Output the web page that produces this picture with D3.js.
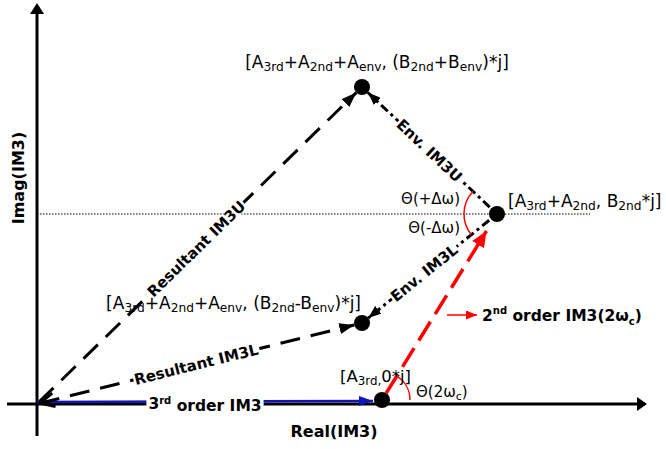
<!DOCTYPE html>
<html lang="en">
<head>
<meta charset="utf-8">
<script src="https://cdn.jsdelivr.net/npm/d3@7/dist/d3.min.js"></script>
<style type="text/css">
body { margin: 0; background: #fff; }
text { font-family: "DejaVu Sans", Verdana, sans-serif; fill: #000; }
.bold { font-weight: bold; }
</style>
</head>
<body>
<script type="text/javascript">

var width = 666;
var height = 449;

// phasor end points, (real, imag) in drawing units
var pointNames = ["O", "A3", "P2", "PU", "PL"];
var pointRe    = [0, 345, 460, 325, 325];
var pointIm    = [0, 4, 190, 317, 81];

// vectors between points
var vecFrom  = ["O",  "A3",     "P2",  "P2",  "O",   "O"];
var vecTo    = ["A3", "P2",     "PU",  "PL",  "PU",  "PL"];
var vecKind  = ["third", "second", "env", "env", "res", "res"];
var vecLabel = [null, null, "Env. IM3U", "Env. IM3L", "Resultant IM3U", "Resultant IM3L"];

// coordinate labels: segments of [text, "sub" | null]
var coordLabels = [
  [["[A"], ["3rd", "sub"], ["+A"], ["2nd", "sub"], ["+A"], ["env", "sub"], [", (B"], ["2nd", "sub"], ["+B"], ["env", "sub"], [")*j]"]],
  [["[A"], ["3rd", "sub"], ["+A"], ["2nd", "sub"], [", B"], ["2nd", "sub"], ["*j]"]],
  [["[A"], ["3rd", "sub"], ["+A"], ["2nd", "sub"], ["+A"], ["env", "sub"], [", (B"], ["2nd", "sub"], ["-B"], ["env", "sub"], [")*j]"]],
  [["[A"], ["3rd,", "sub"], ["0*j]"]]
];
var coordAt = ["PU", "P2", "PL", "A3"];

var angleLabels = ["Θ(+Δω)", "Θ(-Δω)"];
var xTitle = "Real(IM3)";
var yTitle = "Imag(IM3)";

var x = d3.scaleLinear().domain([0, 600]).range([37, 637]);
var y = d3.scaleLinear().domain([0, 400]).range([404, 4]);

var pts = {};
pointNames.forEach(function(n, i) { pts[n] = [x(pointRe[i]), y(pointIm[i])]; });

var svg = d3.select("body").append("svg")
  .attr("width", width)
  .attr("height", height);

var defs = svg.append("defs");
function marker(id, color, w, h) {
  defs.append("marker")
    .attr("id", id)
    .attr("markerUnits", "userSpaceOnUse")
    .attr("viewBox", "0 0 " + w + " " + h)
    .attr("markerWidth", w).attr("markerHeight", h)
    .attr("refX", w).attr("refY", h / 2)
    .attr("orient", "auto")
    .append("path")
    .attr("d", "M0,0L" + w + "," + (h / 2) + "L0," + h + "Z")
    .attr("fill", color);
}
marker("ah-black", "#000", 15, 11);
marker("ah-env", "#000", 13, 10);
marker("ah-red", "#f00", 16, 14);
marker("ah-blue", "#1414b4", 14, 10);
marker("ah-small-red", "#f00", 11, 9);

// axes
var axisG = svg.append("g");
axisG.append("line")
  .attr("x1", x(-30)).attr("y1", y(0)).attr("x2", x(608)).attr("y2", y(0))
  .attr("stroke", "#000").attr("stroke-width", 3);
axisG.append("path")
  .attr("d", "M" + x(600) + "," + (y(0) - 7) + "L" + x(610) + "," + y(0) + "L" + x(600) + "," + (y(0) + 7) + "Z");
axisG.append("line")
  .attr("x1", x(0)).attr("y1", y(-32)).attr("x2", x(0)).attr("y2", y(392))
  .attr("stroke", "#000").attr("stroke-width", 3);
axisG.append("path")
  .attr("d", "M" + (x(0) - 7) + "," + y(390) + "L" + x(0) + "," + y(401) + "L" + (x(0) + 7) + "," + y(390) + "Z");

// dotted reference line at the 2nd order tip
svg.append("line")
  .attr("x1", x(0)).attr("y1", pts.P2[1]).attr("x2", x(553)).attr("y2", pts.P2[1])
  .attr("stroke", "#000").attr("stroke-width", 1).attr("stroke-dasharray", "1.5,1.5");

var dotR = 8;
function shorten(a, b, da, db) {
  var dx = b[0] - a[0], dy = b[1] - a[1], L = Math.sqrt(dx * dx + dy * dy);
  return [[a[0] + dx * da / L, a[1] + dy * da / L], [b[0] - dx * db / L, b[1] - dy * db / L]];
}

var vecG = svg.append("g");
vecFrom.forEach(function(f, i) {
  var k = vecKind[i];
  var a = pts[f], b = pts[vecTo[i]];
  if (k === "third") {
    var s = shorten([a[0], a[1] - 2], [b[0], b[1] + 1], 0, dotR + 1);
    vecG.append("line")
      .attr("x1", s[0][0]).attr("y1", s[0][1]).attr("x2", s[1][0]).attr("y2", s[1][1])
      .attr("stroke", "#1414b4").attr("stroke-width", 2.5)
      .attr("marker-end", "url(#ah-blue)");
  } else if (k === "second") {
    var s2 = shorten(a, b, dotR, 20);
    vecG.append("line")
      .attr("x1", s2[0][0]).attr("y1", s2[0][1]).attr("x2", s2[1][0]).attr("y2", s2[1][1])
      .attr("stroke", "#f00").attr("stroke-width", 3.5)
      .attr("stroke-dasharray", "22,9")
      .attr("marker-end", "url(#ah-red)");
  } else if (k === "env") {
    var s3 = shorten(a, b, dotR + 2, dotR);
    vecG.append("line")
      .attr("x1", s3[0][0]).attr("y1", s3[0][1]).attr("x2", s3[1][0]).attr("y2", s3[1][1])
      .attr("stroke", "#000").attr("stroke-width", 3)
      .attr("stroke-dasharray", "9,4,3,4")
      .attr("marker-end", "url(#ah-env)");
  } else {
    var s4 = shorten(a, b, 3, dotR);
    vecG.append("line")
      .attr("x1", s4[0][0]).attr("y1", s4[0][1]).attr("x2", s4[1][0]).attr("y2", s4[1][1])
      .attr("stroke", "#000").attr("stroke-width", 3)
      .attr("stroke-dasharray", "20,11")
      .attr("marker-end", "url(#ah-black)");
  }
});

// open chevron at the origin end of Resultant IM3L
(function() {
  var a = pts.O, b = pts.PL;
  var ang = Math.atan2(b[1] - a[1], b[0] - a[0]);
  var tip = [a[0] + 3 * Math.cos(ang), a[1] + 3 * Math.sin(ang)];
  var L = 16, spread = 0.45;
  var p1 = [tip[0] + L * Math.cos(ang + spread), tip[1] + L * Math.sin(ang + spread)];
  var p2 = [tip[0] + L * Math.cos(ang - spread), tip[1] + L * Math.sin(ang - spread)];
  vecG.append("path")
    .attr("d", "M" + p1 + "L" + tip + "L" + p2)
    .attr("fill", "none").attr("stroke", "#000").attr("stroke-width", 3);
})();

// angle arcs
var arcG = svg.append("g").attr("fill", "none").attr("stroke", "#f00").attr("stroke-width", 1.5);
function dirAngle(a, b) { return Math.atan2(b[0] - a[0], -(b[1] - a[1])); }
var arc1 = d3.arc().innerRadius(28).outerRadius(28)
  .startAngle(dirAngle(pts.A3, pts.P2)).endAngle(Math.PI / 2);
arcG.append("path").attr("transform", "translate(" + pts.A3 + ")").attr("d", arc1());
var arc2 = d3.arc().innerRadius(33).outerRadius(33)
  .startAngle(dirAngle(pts.P2, pts.PL)).endAngle(dirAngle(pts.P2, pts.PU));
arcG.append("path").attr("transform", "translate(" + pts.P2 + ")").attr("d", arc2());

// vector labels along the lines, with white backing
vecLabel.forEach(function(lbl, i) {
  if (!lbl) return;
  var a = pts[vecFrom[i]], b = pts[vecTo[i]];
  var ang = Math.atan2(b[1] - a[1], b[0] - a[0]) * 180 / Math.PI;
  if (ang > 90 || ang < -90) ang += 180;
  var t = vecKind[i] === "env" ? (vecTo[i] === "PU" ? 0.5 : 0.54) : 0.49;
  var c = [a[0] + (b[0] - a[0]) * t, a[1] + (b[1] - a[1]) * t];
  var g = svg.append("g").attr("transform", "translate(" + c + ") rotate(" + ang + ")");
  var bg = g.append("rect").attr("fill", "#fff");
  var tx = g.append("text").attr("class", "bold")
    .attr("text-anchor", "middle").attr("dy", "0.36em")
    .style("font-size", "15px").text(lbl);
  var bb = tx.node().getBBox();
  bg.attr("x", bb.x - 1).attr("y", bb.y + 3).attr("width", bb.width + 2).attr("height", bb.height - 6);
});

// 3rd order label sitting on the real axis
(function() {
  var g = svg.append("g").attr("transform", "translate(" + x(168) + "," + (y(0) - 1) + ")");
  var bg = g.append("rect").attr("fill", "#fff");
  var tx = g.append("text").attr("class", "bold").attr("text-anchor", "middle")
    .attr("dy", "0.36em").style("font-size", "15.5px");
  tx.append("tspan").text("3");
  tx.append("tspan").attr("dy", "-0.45em").style("font-size", "10px").text("rd");
  tx.append("tspan").attr("dy", "0.45em").text(" order IM3");
  var bb = tx.node().getBBox();
  bg.attr("x", bb.x - 2).attr("y", bb.y + 3).attr("width", bb.width + 4).attr("height", bb.height - 4);
})();

// coordinate labels
function segText(sel, segs, size) {
  var shifted = false;
  segs.forEach(function(s) {
    var ts = sel.append("tspan").text(s[0]);
    if (s[1] === "sub") {
      ts.attr("dy", (size * 0.2) + "px").style("font-size", (size * 0.72) + "px");
      shifted = true;
    } else if (shifted) {
      ts.attr("dy", (-size * 0.2) + "px");
      shifted = false;
    }
  });
}
var coordPos = [[15, -19, "middle"], [11, -7, "start"], [-1, -14, "end"], [-42, -18, "start"]];
coordLabels.forEach(function(segs, i) {
  var p = pts[coordAt[i]];
  var sz = i === 3 ? 16.5 : 17;
  var t = svg.append("text")
    .attr("x", p[0] + coordPos[i][0]).attr("y", p[1] + coordPos[i][1])
    .attr("text-anchor", coordPos[i][2])
    .style("font-size", sz + "px");
  segText(t, segs, sz);
});

// dots
svg.append("g").selectAll("circle")
  .data(pointNames.filter(function(n) { return n !== "O"; }))
  .enter().append("circle")
  .attr("cx", function(n) { return pts[n][0]; })
  .attr("cy", function(n) { return pts[n][1]; })
  .attr("r", dotR)
  .attr("fill", "#000");

// angle labels
svg.append("text").attr("x", pts.P2[0] - 37).attr("y", pts.P2[1] - 10)
  .attr("text-anchor", "end").style("font-size", "15px").text(angleLabels[0]);
svg.append("text").attr("x", pts.P2[0] - 37).attr("y", pts.P2[1] + 19)
  .attr("text-anchor", "end").style("font-size", "15px").text(angleLabels[1]);
var th = svg.append("text").attr("x", pts.A3[0] + 34).attr("y", pts.A3[1] - 3)
  .style("font-size", "15px");
th.append("tspan").text("Θ(2ω");
th.append("tspan").attr("dy", "3px").style("font-size", "11px").text("c");
th.append("tspan").attr("dy", "-3px").text(")");

// 2nd order label with small pointer
var lblY = y(89);
svg.append("line")
  .attr("x1", x(410)).attr("y1", lblY).attr("x2", x(440)).attr("y2", lblY)
  .attr("stroke", "#f00").attr("stroke-width", 1.5)
  .attr("marker-end", "url(#ah-small-red)");
var t2 = svg.append("text").attr("class", "bold")
  .attr("x", x(445)).attr("y", lblY + 6).style("font-size", "15.5px");
t2.append("tspan").text("2");
t2.append("tspan").attr("dy", "-7px").style("font-size", "10px").text("nd");
t2.append("tspan").attr("dy", "7px").text(" order IM3(2ω");
t2.append("tspan").attr("dy", "4px").style("font-size", "10px").text("c");
t2.append("tspan").attr("dy", "-4px").text(")");

// axis titles
svg.append("text").attr("class", "bold")
  .attr("x", x(297)).attr("y", y(-33)).attr("text-anchor", "middle")
  .style("font-size", "16px").text(xTitle);
svg.append("text").attr("class", "bold")
  .attr("transform", "translate(" + (x(0) - 19) + "," + y(226) + ") rotate(-90)")
  .attr("text-anchor", "middle").attr("dy", "0.35em")
  .style("font-size", "16px").text(yTitle);

</script>
</body>
</html>
